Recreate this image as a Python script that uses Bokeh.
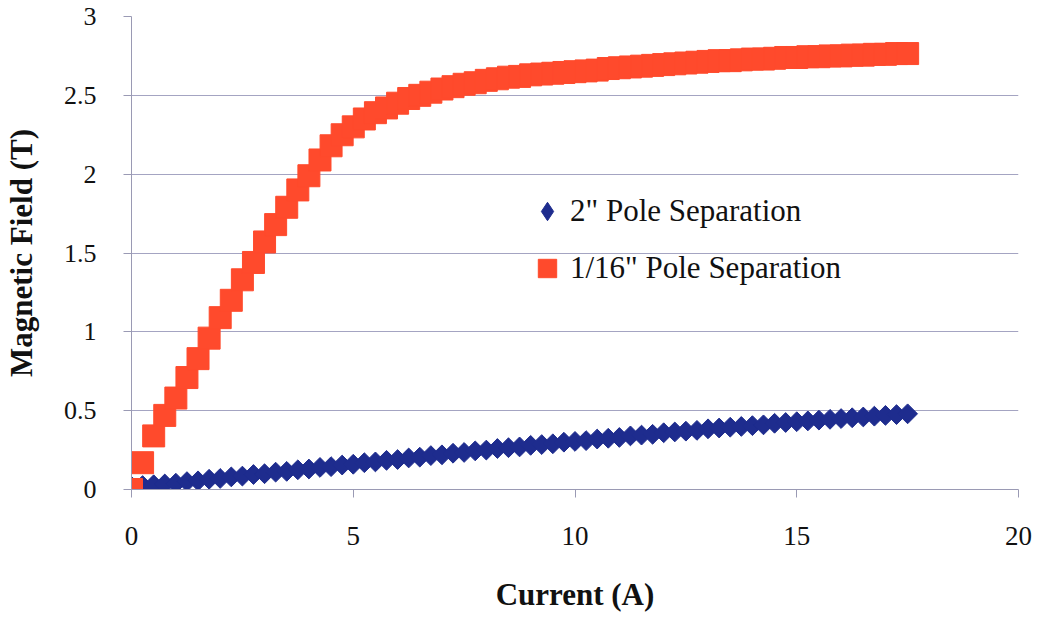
import math
from bokeh.plotting import figure
from bokeh.models import ColumnDataSource, Range1d, FixedTicker, Legend, LegendItem
from bokeh.embed import file_html
from bokeh.resources import INLINE

current = [0.0, 0.25, 0.5, 0.75, 1.0, 1.25, 1.5, 1.75, 2.0, 2.25, 2.5, 2.75, 3.0, 3.25, 3.5, 3.75,
           4.0, 4.25, 4.5, 4.75, 5.0, 5.25, 5.5, 5.75, 6.0, 6.25, 6.5, 6.75, 7.0, 7.25, 7.5, 7.75,
           8.0, 8.25, 8.5, 8.75, 9.0, 9.25, 9.5, 9.75, 10.0, 10.25, 10.5, 10.75, 11.0, 11.25, 11.5, 11.75,
           12.0, 12.25, 12.5, 12.75, 13.0, 13.25, 13.5, 13.75, 14.0, 14.25, 14.5, 14.75, 15.0, 15.25, 15.5, 15.75,
           16.0, 16.25, 16.5, 16.75, 17.0, 17.25, 17.5]

field_2in = [0.02, 0.025, 0.03, 0.035, 0.04, 0.05, 0.055, 0.065, 0.07, 0.08, 0.085, 0.095, 0.10, 0.11, 0.115, 0.125,
             0.13, 0.14, 0.145, 0.155, 0.16, 0.17, 0.175, 0.185, 0.19, 0.20, 0.205, 0.215, 0.22, 0.23, 0.235, 0.245,
             0.25, 0.26, 0.265, 0.27, 0.28, 0.285, 0.29, 0.30, 0.305, 0.31, 0.32, 0.325, 0.33, 0.34, 0.345, 0.35,
             0.36, 0.365, 0.37, 0.375, 0.385, 0.39, 0.395, 0.40, 0.405, 0.41, 0.42, 0.425, 0.43, 0.435, 0.44, 0.445,
             0.45, 0.455, 0.46, 0.465, 0.47, 0.475, 0.48]

field_16th = [0.00, 0.17, 0.34, 0.47, 0.58, 0.71, 0.83, 0.96, 1.09, 1.20, 1.33, 1.44, 1.57, 1.68, 1.79, 1.90,
              1.99, 2.09, 2.18, 2.25, 2.30, 2.35, 2.39, 2.42, 2.45, 2.48, 2.50, 2.52, 2.54, 2.555, 2.57, 2.58,
              2.595, 2.605, 2.615, 2.62, 2.63, 2.635, 2.64, 2.645, 2.65, 2.655, 2.66, 2.67, 2.675, 2.68, 2.685, 2.69,
              2.695, 2.70, 2.705, 2.71, 2.715, 2.72, 2.72, 2.725, 2.73, 2.73, 2.735, 2.74, 2.74, 2.745, 2.745, 2.75,
              2.75, 2.755, 2.755, 2.76, 2.76, 2.765, 2.765]

x_ticks = [0, 5, 10, 15, 20]
y_ticks = [0, 0.5, 1, 1.5, 2, 2.5, 3]
labels = ['2" Pole Separation', '1/16" Pole Separation']

BLUE = "#1E2C8E"
RED = "#FF4A2C"

src = ColumnDataSource(dict(x=current, b=field_2in, r=field_16th))

p = figure(width=1041, height=618, output_backend="svg", toolbar_location=None,
           x_range=Range1d(0, 20), y_range=Range1d(0, 3),
           min_border_left=131, min_border_right=23, min_border_top=16, min_border_bottom=129)
p.outline_line_color = None
p.background_fill_color = "white"
p.border_fill_color = "white"

blue = p.scatter("x", "b", source=src, marker="square", angle=math.pi / 4, size=14, color=BLUE)
red = p.scatter("x", "r", source=src, marker="square", size=22, color=RED)
# legend swatch for the blue series (diamond shape; zero size so nothing extra is drawn in the plot)
blue_key = p.scatter("x", "b", source=src, marker="diamond", size=0, color=BLUE)

font = "Liberation Serif"
p.xaxis.ticker = FixedTicker(ticks=x_ticks)
p.yaxis.ticker = FixedTicker(ticks=y_ticks)
p.yaxis.formatter.use_scientific = False
for ax in (p.xaxis, p.yaxis):
    ax.major_label_text_font = font
    ax.major_label_text_color = "#111111"
    ax.axis_label_text_font = font
    ax.axis_label_text_font_style = "bold"
    ax.axis_label_text_font_size = "31px"
    ax.axis_label_text_color = "#111111"
    ax.minor_tick_line_color = None
    ax.major_tick_in = 0
    ax.major_tick_out = 8
    ax.axis_line_color = "#9a9ab4"
    ax.major_tick_line_color = "#9a9ab4"

p.xaxis.major_label_text_font_size = "27px"
p.yaxis.major_label_text_font_size = "26px"
p.xaxis.axis_label = "Current (A)"
p.yaxis.axis_label = "Magnetic Field (T)"
p.xaxis.major_label_standoff = 29
p.xaxis.axis_label_standoff = 29
p.yaxis.major_label_standoff = 27
p.yaxis.axis_label_standoff = 22

p.xgrid.grid_line_color = None
p.ygrid.grid_line_color = "#a4a4c2"
p.ygrid.grid_line_width = 1.2

legend = Legend(items=[LegendItem(label=labels[0], renderers=[blue_key]),
                       LegendItem(label=labels[1], renderers=[red])],
                location=(393, 196), orientation="vertical")
legend.border_line_color = None
legend.background_fill_alpha = 0
legend.label_text_font = font
legend.label_text_font_size = "31px"
legend.label_text_color = "#111111"
legend.glyph_width = 46
legend.glyph_height = 50
legend.spacing = 7
legend.label_standoff = 0
legend.padding = 0
legend.margin = 0
p.add_layout(legend, "center")

open("out.html", "w").write(file_html(p, INLINE))
